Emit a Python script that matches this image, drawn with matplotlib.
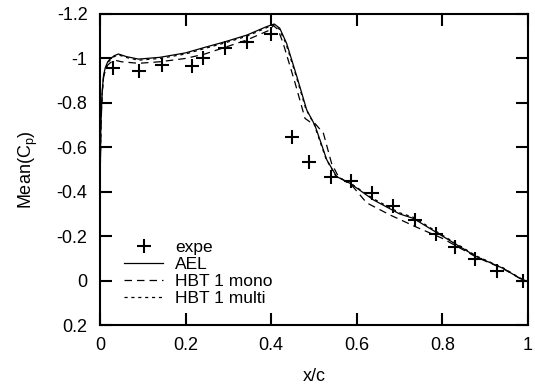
import matplotlib
matplotlib.use("Agg")
import matplotlib.pyplot as plt

# experimental points (crosses)
x_expe = [0.031, 0.092, 0.144, 0.214, 0.240, 0.292, 0.343, 0.399, 0.448, 0.489,
          0.539, 0.586, 0.636, 0.684, 0.736, 0.785, 0.829, 0.876, 0.927, 0.989]
cp_expe = [-0.956, -0.943, -0.970, -0.966, -1.000, -1.048, -1.073, -1.108, -0.648, -0.532,
           -0.465, -0.448, -0.396, -0.336, -0.273, -0.208, -0.150, -0.096, -0.043, 0.000]

# AEL (solid)
x_ael = [0.0, 0.002, 0.005, 0.008, 0.012, 0.018, 0.023, 0.033, 0.043, 0.062, 0.090, 0.140,
         0.200, 0.245, 0.292, 0.343, 0.389, 0.407, 0.420, 0.436, 0.460, 0.483, 0.502, 0.530,
         0.553, 0.584, 0.639, 0.700, 0.732, 0.802, 0.880, 0.942, 0.981, 1.0]
cp_ael = [-0.40, -0.70, -0.85, -0.92, -0.956, -0.985, -0.996, -1.012, -1.020, -1.008, -0.997, -1.005,
          -1.025, -1.050, -1.075, -1.105, -1.143, -1.155, -1.136, -1.068, -0.918, -0.768, -0.700, -0.543,
          -0.468, -0.438, -0.363, -0.300, -0.280, -0.198, -0.107, -0.055, -0.010, 0.005]

# HBT 1 mono (long dashes)
x_mono = [0.0, 0.002, 0.005, 0.008, 0.012, 0.018, 0.025, 0.035, 0.050, 0.090, 0.140, 0.200,
          0.245, 0.292, 0.343, 0.397, 0.405, 0.416, 0.428, 0.456, 0.479, 0.490, 0.502, 0.522,
          0.541, 0.557, 0.590, 0.623, 0.678, 0.740, 0.800, 0.880, 0.942, 0.981, 1.0]
cp_mono = [-0.40, -0.68, -0.84, -0.91, -0.945, -0.970, -0.982, -0.992, -0.985, -0.978, -0.985, -1.000,
           -1.020, -1.050, -1.083, -1.128, -1.148, -1.130, -1.068, -0.888, -0.730, -0.715, -0.708, -0.663,
           -0.528, -0.468, -0.425, -0.350, -0.295, -0.240, -0.190, -0.105, -0.053, -0.010, 0.005]

# HBT 1 multi (short dashes)
x_multi = [0.0, 0.002, 0.005, 0.008, 0.012, 0.018, 0.023, 0.033, 0.043, 0.062, 0.090, 0.140,
           0.200, 0.245, 0.292, 0.343, 0.389, 0.405, 0.418, 0.434, 0.458, 0.481, 0.500, 0.528,
           0.551, 0.584, 0.639, 0.700, 0.732, 0.802, 0.880, 0.942, 0.981, 1.0]
cp_multi = [-0.40, -0.69, -0.84, -0.91, -0.950, -0.980, -0.992, -1.008, -1.016, -1.004, -0.992, -1.000,
            -1.020, -1.045, -1.070, -1.100, -1.138, -1.152, -1.134, -1.070, -0.922, -0.772, -0.705, -0.548,
            -0.470, -0.440, -0.368, -0.305, -0.285, -0.202, -0.110, -0.057, -0.012, 0.004]

plt.rcParams.update({"font.family": ["Liberation Sans", "DejaVu Sans"], "font.size": 13})
fig = plt.figure(figsize=(5.35, 3.9), dpi=100)
ax = fig.add_axes([100 / 535, 1 - 325 / 390, 428 / 535, 311 / 390])

ax.plot(x_expe, cp_expe, ls='none', marker='+', ms=10, mew=1.5, color='k', label='expe')
ax.plot(x_ael, cp_ael, '-', color='k', lw=0.9, label='AEL')
ax.plot(x_mono, cp_mono, color='k', lw=0.9, dashes=(6, 4), label='HBT 1 mono')
ax.plot(x_multi, cp_multi, color='k', lw=0.9, dashes=(2.5, 3), label='HBT 1 multi')

ax.set_xlim(0, 1)
ax.set_ylim(0.2, -1.2)
ax.set_xticks([0, 0.2, 0.4, 0.6, 0.8, 1])
ax.set_xticklabels(['0', '0.2', '0.4', '0.6', '0.8', '1'])
ax.set_yticks([-1.2, -1, -0.8, -0.6, -0.4, -0.2, 0, 0.2])
ax.set_yticklabels(['-1.2', '-1', '-0.8', '-0.6', '-0.4', '-0.2', '0', '0.2'])
ax.tick_params(direction='in', length=8.5, width=1.5, top=True, right=True, pad=9)
for s in ax.spines.values():
    s.set_linewidth(1.5)
ax.set_xlabel('x/c', labelpad=10)
ax.set_ylabel(r'Mean(C$_\mathregular{p}$)', labelpad=12)

ax.legend(loc='upper left', bbox_to_anchor=(0.055, 0.275), frameon=False, handlelength=2.3,
          handletextpad=0.65, labelspacing=0.12, borderaxespad=0, borderpad=0, fontsize=12.5)

fig.savefig('out.png', dpi=100)
